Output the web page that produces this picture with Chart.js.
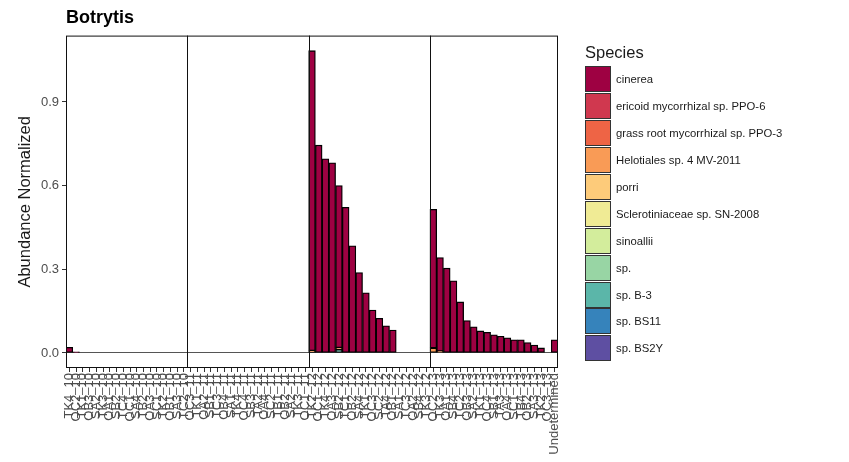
<!DOCTYPE html>
<html>
<head>
<meta charset="utf-8">
<script src="https://cdn.jsdelivr.net/npm/chart.js@4.4.0/dist/chart.umd.min.js"></script>
<style>
    body { margin: 0; background: #fff; font-family: "Liberation Sans", Arial, sans-serif; }
    #wrap { position: relative; width: 849px; height: 462px; }
    #legend { position: absolute; left: 585px; top: 41px; color: #1a1a1a; }
    #legend .ttl { font-size: 16.5px; height: 25px; line-height: 22px; }
    #legend .row { height: 26.9px; display: flex; align-items: center; font-size: 11.3px; }
    #legend .key { width: 24px; height: 24px; border: 1px solid #333; margin-right: 5px; }
</style>
</head>
<body>
<div id="wrap">
    <canvas id="graphCanvas" width="849" height="462"></canvas>
    <div id="legend"></div>
</div>
<script>
    // sample names per facet panel (x tick labels)
    var labels1 = ['TK4_10', 'OC2_10', 'TK1_10', 'OB3_10', 'SA2_10', 'TK3_10', 'OA1_10', 'SB2_10', 'TC4_10',
                   'OC1_10', 'SA4_10', 'TB2_10', 'OA3_10', 'SC1_10', 'TK2_10', 'OB1_10', 'SA3_10', 'TC2_10'];
    var labels2 = ['OC3_11', 'TK1_11', 'OA2_11', 'SB1_11', 'TC3_11', 'OB4_11', 'SA1_11', 'TK4_11', 'OC4_11',
                   'SB3_11', 'TA2_11', 'OA4_11', 'SC2_11', 'TB1_11', 'OB2_11', 'SA2_11', 'TK3_11', 'OC1_11'];
    var labels3 = ['TK2_12', 'OC1_12', 'TK4_12', 'OA3_12', 'SB2_12', 'TC1_12', 'OB2_12', 'SA4_12', 'TK1_12',
                   'OC3_12', 'SC2_12', 'TA4_12', 'OB1_12', 'SA1_12', 'TC3_12', 'OA2_12', 'SB4_12', 'TK3_12'];
    var labels4 = ['OC2_13', 'TK3_13', 'OA1_13', 'SB4_13', 'TC2_13', 'OB3_13', 'SA2_13', 'TK1_13', 'OC4_13',
                   'SB1_13', 'TA3_13', 'OA4_13', 'SC1_13', 'TB4_13', 'OB2_13', 'SA3_13', 'TK2_13', 'OC3_13',
                   'Undetermined'];

    var species = ['cinerea', 'ericoid mycorrhizal sp. PPO-6', 'grass root mycorrhizal sp. PPO-3',
                   'Helotiales sp. 4 MV-2011', 'porri', 'Sclerotiniaceae sp. SN-2008', 'sinoallii',
                   'sp.', 'sp. B-3', 'sp. BS11', 'sp. BS2Y'];
    var speciesColors = ['#9E0142', '#D0384F', '#EE6445', '#F99B56', '#FDCB7A', '#F0EB95',
                         '#D3ED9C', '#98D5A4', '#5BB6A9', '#3683BB', '#5E4FA2'];

    var cinereaP1 = [0.020, 0.004, 0, 0, 0, 0, 0, 0, 0, 0, 0, 0, 0, 0, 0, 0, 0, 0];
    var cinereaP2 = [0, 0, 0, 0, 0, 0, 0, 0, 0, 0, 0, 0, 0, 0, 0, 0, 0, 0];
    var cinereaP3 = [1.076, 0.745, 0.696, 0.682, 0.581, 0.522, 0.384, 0.288, 0.216, 0.154, 0.124, 0.097, 0.082,
                     0, 0, 0, 0, 0];
    var cinereaP4 = [0.497, 0.336, 0.304, 0.259, 0.183, 0.116, 0.094, 0.079, 0.074, 0.065, 0.060, 0.054, 0.047,
                     0.047, 0.037, 0.028, 0.018, 0, 0.047];

    var helotialesP1 = [0, 0, 0, 0, 0, 0, 0, 0, 0, 0, 0, 0, 0, 0, 0, 0, 0, 0];
    var helotialesP2 = [0, 0, 0, 0, 0, 0, 0, 0, 0, 0, 0, 0, 0, 0, 0, 0, 0, 0];
    var helotialesP3 = [0.008, 0, 0, 0, 0.007, 0, 0, 0, 0, 0, 0, 0, 0, 0, 0, 0, 0, 0];
    var helotialesP4 = [0.018, 0.006, 0, 0, 0, 0, 0, 0, 0, 0, 0, 0, 0, 0, 0, 0, 0, 0, 0];

    var spB3P1 = [0, 0, 0, 0, 0, 0, 0, 0, 0, 0, 0, 0, 0, 0, 0, 0, 0, 0];
    var spB3P2 = [0, 0, 0, 0, 0, 0, 0, 0, 0, 0, 0, 0, 0, 0, 0, 0, 0, 0];
    var spB3P3 = [0, 0, 0, 0, 0.012, 0, 0, 0, 0, 0, 0, 0, 0, 0, 0, 0, 0, 0];
    var spB3P4 = [0, 0, 0, 0, 0, 0, 0, 0, 0, 0, 0, 0, 0, 0, 0, 0, 0, 0, 0];

    var yTicks = [0, 0.3, 0.6, 0.9];

    var labels = labels1.concat(labels2, labels3, labels4);
    var panelStarts = [labels1.length, labels1.length + labels2.length,
                       labels1.length + labels2.length + labels3.length];

    var values = {
        'cinerea': cinereaP1.concat(cinereaP2, cinereaP3, cinereaP4),
        'Helotiales sp. 4 MV-2011': helotialesP1.concat(helotialesP2, helotialesP3, helotialesP4),
        'sp. B-3': spB3P1.concat(spB3P2, spB3P3, spB3P4)
    };

    // ggplot stacks the first level on top, so build datasets bottom-up
    var datasets = [];
    for (var i = species.length - 1; i >= 0; i--) {
        datasets.push({
            label: species[i],
            data: values[species[i]] || [],
            backgroundColor: speciesColors[i],
            borderColor: '#000',
            borderWidth: 1.3,
            borderSkipped: false,
            barPercentage: 1,
            categoryPercentage: 1
        });
    }

    // legend
    var legendHtml = '<div class="ttl">Species</div>';
    for (var j = 0; j < species.length; j++) {
        legendHtml += '<div class="row"><div class="key" style="background:' + speciesColors[j] +
                      '"></div>' + species[j] + '</div>';
    }
    document.getElementById('legend').innerHTML = legendHtml;

    var framePlugin = {
        id: 'frame',
        afterDatasetsDraw: function (chart) {
            var ctx = chart.ctx, a = chart.chartArea, xs = chart.scales.x;
            ctx.save();
            ctx.strokeStyle = '#111';
            ctx.lineWidth = 1;
            ctx.strokeRect(a.left + 0.5, a.top + 0.5, a.right - a.left - 1, a.bottom - a.top - 1);
            panelStarts.forEach(function (k) {
                var x = Math.round((xs.getPixelForValue(k - 1) + xs.getPixelForValue(k)) / 2) + 0.5;
                ctx.beginPath();
                ctx.moveTo(x, a.top);
                ctx.lineTo(x, a.bottom);
                ctx.stroke();
            });
            ctx.restore();
        }
    };

    var graphTarget = document.getElementById('graphCanvas');
    var barGraph = new Chart(graphTarget, {
        type: 'bar',
        data: { labels: labels, datasets: datasets },
        plugins: [framePlugin],
        options: {
            responsive: false,
            animation: false,
            layout: { padding: { left: 0, right: 291, top: 0, bottom: 0 } },
            plugins: {
                legend: { display: false },
                tooltip: { enabled: false },
                title: {
                    display: true,
                    text: 'Botrytis',
                    align: 'start',
                    fullSize: false,
                    color: '#000',
                    font: { family: 'Liberation Sans', size: 18, weight: 'bold' },
                    padding: { top: 7, bottom: 7 }
                }
            },
            scales: {
                x: {
                    stacked: true,
                    afterFit: function (scale) { scale.height = 94; },
                    border: { display: false },
                    grid: { offset: false, drawOnChartArea: false, tickLength: 4, tickColor: '#333' },
                    ticks: {
                        autoSkip: false, maxRotation: 90, minRotation: 90, padding: 1,
                        color: '#4d4d4d', font: { family: 'Liberation Sans', size: 13 }
                    }
                },
                y: {
                    stacked: true,
                    min: -0.054,
                    max: 1.138,
                    afterFit: function (scale) { scale.width = 66; },
                    afterBuildTicks: function (scale) {
                        scale.ticks = yTicks.map(function (v) { return { value: v }; });
                    },
                    border: { display: false },
                    grid: {
                        color: function (c) { return c.tick && c.tick.value === 0 ? '#555' : 'rgba(0,0,0,0)'; },
                        tickLength: 4,
                        tickColor: '#333'
                    },
                    ticks: {
                        padding: 3,
                        color: '#4d4d4d',
                        font: { family: 'Liberation Sans', size: 13 },
                        callback: function (v) { return Number(v).toFixed(1); }
                    },
                    title: {
                        display: true,
                        text: 'Abundance Normalized',
                        color: '#1a1a1a',
                        font: { family: 'Liberation Sans', size: 16.5 },
                        padding: { top: 16, bottom: 0 }
                    }
                }
            }
        }
    });
</script>
</body>
</html>
